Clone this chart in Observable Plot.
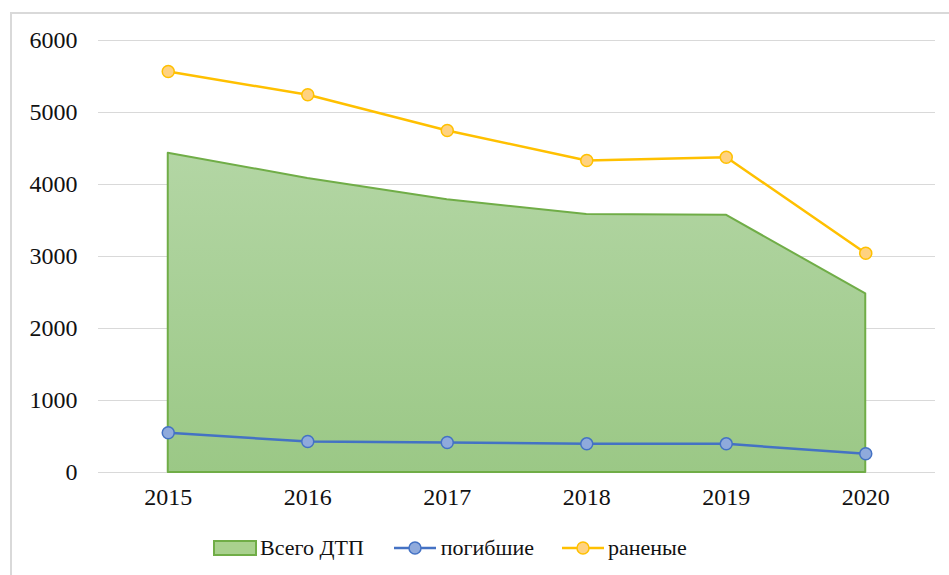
<!DOCTYPE html>
<html><head><meta charset="utf-8">
<script src="https://cdn.jsdelivr.net/npm/d3@7"></script>
<script src="https://cdn.jsdelivr.net/npm/@observablehq/plot@0.6"></script>
<style>
html,body{margin:0;padding:0;background:#fff;overflow:hidden}
#wrap{position:relative;width:949px;height:575px;font-family:'Liberation Serif',serif}
#frame{position:absolute;left:10px;top:12px;width:960px;height:600px;border:2px solid #d9d9d9;box-sizing:border-box}
#chart{position:absolute;left:0;top:0}
#legend{position:absolute;left:213px;top:535px;display:flex;align-items:center;font-family:'Liberation Serif',serif;font-size:22px;color:#111;white-space:nowrap}
.item{display:flex;align-items:center}
.item svg{display:block}
</style></head>
<body><div id="wrap"><div id="frame"></div><div id="chart"></div><div id="legend"></div></div>
<script>
const years = [2015, 2016, 2017, 2018, 2019, 2020];
const totalDTP = [4435, 4083, 3787, 3583, 3574, 2481];
const killed = [551, 431, 417, 398, 398, 260];
const injured = [5569, 5246, 4750, 4333, 4379, 3046];
const yTicks = [0, 1000, 2000, 3000, 4000, 5000, 6000];
const seriesNames = ["Всего ДТП", "погибшие", "раненые"];

const rows = years.map((y, i) => ({year: y, total: totalDTP[i], killed: killed[i], injured: injured[i]}));

const plot = Plot.plot({
  width: 949,
  height: 520,
  marginTop: 40,
  marginBottom: 48,
  marginLeft: 98,
  marginRight: 14,
  style: {fontSize: "24px", color: "#111", background: "transparent"},
  x: {domain: [2014.5, 2020.5]},
  y: {domain: [0, 6000]},
  marks: [
    Plot.ruleY(yTicks, {stroke: "#d9d9d9", strokeWidth: 1.2}),
    Plot.areaY(rows, {x: "year", y: "total", fill: "url(#gradGreen)", stroke: "#70ad47", strokeWidth: 2}),
    Plot.line(rows, {x: "year", y: "killed", stroke: "#4472c4", strokeWidth: 2.5}),
    Plot.dot(rows, {x: "year", y: "killed", r: 6, fill: "#8faadc", stroke: "#4472c4", strokeWidth: 1.5}),
    Plot.line(rows, {x: "year", y: "injured", stroke: "#ffc000", strokeWidth: 2.5}),
    Plot.dot(rows, {x: "year", y: "injured", r: 6, fill: "#ffd280", stroke: "#ffc000", strokeWidth: 1.5}),
    Plot.axisY({ticks: yTicks, tickSize: 0, tickPadding: 21, tickFormat: d => String(d), label: null}),
    Plot.axisX({ticks: years, tickSize: 0, tickPadding: 15, tickFormat: d => String(d), label: null})
  ]
});
const svg = d3.select(plot);
svg.attr("font-family", "Liberation Serif").style("font-family", "'Liberation Serif', serif");
svg.selectAll("text").attr("font-family", "Liberation Serif").style("font-family", "'Liberation Serif', serif");
const defs = svg.insert("defs", ":first-child");
const g = defs.append("linearGradient").attr("id", "gradGreen").attr("x1", 0).attr("y1", 0).attr("x2", 0).attr("y2", 1);
g.append("stop").attr("offset", "0%").attr("stop-color", "#b3d6a4");
g.append("stop").attr("offset", "100%").attr("stop-color", "#9bc886");
document.getElementById("chart").appendChild(plot);

// legend
const legend = d3.select("#legend");
const it1 = legend.append("div").attr("class", "item");
const s1 = it1.append("svg").attr("width", 44).attr("height", 18);
s1.append("rect").attr("x", 1).attr("y", 2).attr("width", 42).attr("height", 14).attr("fill", "#a9d18e").attr("stroke", "#70ad47").attr("stroke-width", 2);
it1.append("span").style("margin-left", "3px").text(seriesNames[0]);

const it2 = legend.append("div").attr("class", "item").style("margin-left", "30px");
const s2 = it2.append("svg").attr("width", 42).attr("height", 18);
s2.append("line").attr("x1", 0).attr("x2", 42).attr("y1", 9).attr("y2", 9).attr("stroke", "#4472c4").attr("stroke-width", 2.5);
s2.append("circle").attr("cx", 21).attr("cy", 9).attr("r", 6).attr("fill", "#8faadc").attr("stroke", "#4472c4").attr("stroke-width", 1.5);
it2.append("span").style("margin-left", "5px").text(seriesNames[1]);

const it3 = legend.append("div").attr("class", "item").style("margin-left", "28px");
const s3 = it3.append("svg").attr("width", 42).attr("height", 18);
s3.append("line").attr("x1", 0).attr("x2", 42).attr("y1", 9).attr("y2", 9).attr("stroke", "#ffc000").attr("stroke-width", 2.5);
s3.append("circle").attr("cx", 21).attr("cy", 9).attr("r", 6).attr("fill", "#ffd280").attr("stroke", "#ffc000").attr("stroke-width", 1.5);
it3.append("span").style("margin-left", "4px").text(seriesNames[2]);
</script></body></html>
